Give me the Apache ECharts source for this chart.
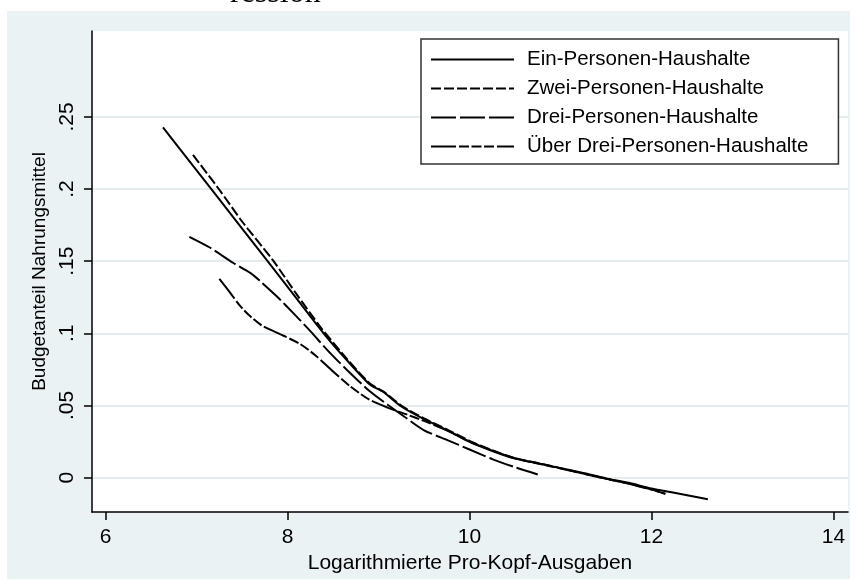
<!DOCTYPE html>
<html>
<head>
<meta charset="utf-8">
<script src="https://cdn.jsdelivr.net/npm/echarts@6/dist/echarts.min.js"></script>
<style>
  html, body { margin: 0; padding: 0; background: #ffffff; }
  #bg { position: absolute; left: 7px; top: 11px; width: 843px; height: 568px; background: #eaf2f3; }
  #main { position: absolute; left: 0; top: 0; width: 856px; height: 580px; }
</style>
</head>
<body>
<div id="bg"></div>
<div id="main"></div>
<script>
// Achsen
const xTicks = [6, 8, 10, 12, 14];
const yTicks = [0, 0.05, 0.1, 0.15, 0.2, 0.25];

// Ein-Personen-Haushalte
const einX = [6.63, 7.0, 7.5, 8.0, 8.4, 8.65, 8.9, 9.05, 9.25, 9.5, 9.75, 10.0, 10.25, 10.5, 10.75, 11.0, 11.25, 11.5, 11.75, 12.0, 12.25, 12.62];
const einY = [0.2427, 0.2129, 0.1726, 0.1322, 0.0997, 0.0815, 0.0648, 0.0595, 0.0493, 0.0405, 0.0330, 0.0248, 0.0185, 0.0132, 0.0100, 0.0066, 0.0032, -0.0005, -0.0036, -0.0075, -0.0105, -0.0150];

// Zwei-Personen-Haushalte
const zweiX = [6.96, 7.25, 7.5, 7.84, 8.1, 8.37, 8.65, 8.9, 9.05, 9.25, 9.5, 9.75, 10.0, 10.25, 10.5, 10.75, 11.0, 11.25, 11.5, 11.75, 12.0, 12.18];
const zweiY = [0.2236, 0.1995, 0.1775, 0.1505, 0.1270, 0.1037, 0.0825, 0.0655, 0.0598, 0.0500, 0.0410, 0.0335, 0.0255, 0.0190, 0.0135, 0.0102, 0.0066, 0.0028, -0.0008, -0.0040, -0.0082, -0.0118];

// Drei-Personen-Haushalte
const dreiX = [6.92, 7.15, 7.4, 7.59, 7.7, 7.88, 8.06, 8.25, 8.45, 8.65, 8.9, 9.1, 9.3, 9.5, 9.75, 10.0, 10.25, 10.5, 10.75];
const dreiY = [0.1669, 0.1593, 0.1489, 0.1419, 0.1361, 0.1257, 0.1142, 0.1015, 0.0875, 0.0748, 0.0600, 0.0505, 0.0415, 0.0328, 0.0262, 0.0195, 0.0128, 0.0072, 0.0022];

// Über Drei-Personen-Haushalte
const ueberX = [7.25, 7.37, 7.48, 7.59, 7.73, 7.95, 8.14, 8.32, 8.5, 8.69, 8.9, 9.1, 9.3, 9.5, 9.75, 10.0, 10.25, 10.5, 10.75, 11.0, 11.25, 11.5, 11.75, 12.0, 12.15];
const ueberY = [0.1378, 0.1280, 0.1188, 0.1118, 0.1049, 0.0985, 0.0925, 0.0840, 0.0736, 0.0632, 0.0540, 0.0485, 0.0440, 0.0393, 0.0328, 0.0250, 0.0188, 0.0134, 0.0098, 0.0064, 0.0028, -0.0008, -0.0042, -0.0083, -0.0112];

const names = ['Ein-Personen-Haushalte', 'Zwei-Personen-Haushalte', 'Drei-Personen-Haushalte', 'Über Drei-Personen-Haushalte'];

const pairs = (xs, ys) => xs.map((x, i) => [x, ys[i]]);
const sans = 'Liberation Sans, Arial, sans-serif';

const mkSeries = (name, xs, ys, dash) => ({
  name: name,
  type: 'line',
  data: pairs(xs, ys),
  showSymbol: false,
  symbol: 'none',
  smooth: 0.25,
  itemStyle: { color: '#000' },
  lineStyle: { color: '#000', width: 2, type: dash },
  emphasis: { disabled: true },
});

const chart = echarts.init(document.getElementById('main'));
const options = {
  animation: false,
  backgroundColor: 'transparent',
  // oberer, abgeschnittener Titel
  title: {
    text: 'ression',
    left: 230,
    top: -22.5,
    padding: 0,
    textStyle: { fontFamily: 'Liberation Serif, serif', fontSize: 32, fontWeight: 'normal', color: '#000' },
  },
  grid: {
    left: 92, right: 8, top: 31, bottom: 68,
    show: true, backgroundColor: '#ffffff', borderWidth: 0,
  },
  legend: {
    orient: 'vertical',
    left: 421, top: 39,
    padding: [10, 30, 7, 9],
    itemGap: 8,
    itemWidth: 83,
    itemHeight: 20,
    backgroundColor: '#ffffff',
    borderColor: '#333333',
    borderWidth: 1.5,
    borderRadius: 0,
    itemStyle: { opacity: 0 },
    data: names,
    textStyle: { fontFamily: sans, fontSize: 20.5, color: '#000', padding: [0, 0, 0, 8] },
  },
  xAxis: {
    type: 'value',
    min: 5.85, max: 14.16,
    name: 'Logarithmierte Pro-Kopf-Ausgaben',
    nameLocation: 'middle',
    nameGap: 34,
    nameTextStyle: { fontFamily: sans, fontSize: 21, color: '#000' },
    axisLine: { show: true, onZero: false, lineStyle: { color: '#000', width: 1.5 } },
    axisTick: { show: true, customValues: xTicks, length: 8, lineStyle: { color: '#000', width: 1.5 } },
    axisLabel: { customValues: xTicks, margin: 15, fontFamily: sans, fontSize: 21, color: '#000' },
    splitLine: { show: false },
  },
  yAxis: {
    type: 'value',
    min: -0.0238, max: 0.3095,
    name: 'Budgetanteil Nahrungsmittel',
    nameLocation: 'middle',
    nameGap: 36,
    nameTextStyle: { fontFamily: sans, fontSize: 19, color: '#000' },
    axisLine: { show: true, onZero: false, lineStyle: { color: '#000', width: 1.5 } },
    axisTick: { show: true, customValues: yTicks, length: 8, lineStyle: { color: '#000', width: 1.5 } },
    axisLabel: {
      customValues: yTicks, rotate: 90, margin: 14,
      fontFamily: sans, fontSize: 21, color: '#000',
      formatter: (v) => (v === 0 ? '0' : String(v).replace(/^0/, '')),
    },
    splitLine: { show: true, lineStyle: { color: '#e4ecef', width: 2 } },
  },
  series: [
    mkSeries(names[0], einX, einY, 'solid'),
    mkSeries(names[1], zweiX, zweiY, [10, 3]),
    mkSeries(names[2], dreiX, dreiY, [25, 4]),
    mkSeries(names[3], ueberX, ueberY, [25, 3, 10, 2.5, 10, 2.5, 10, 3]),
  ],
};
chart.setOption(options);
window.onresize = function () {
  chart.resize();
};
</script>
</body>
</html>
